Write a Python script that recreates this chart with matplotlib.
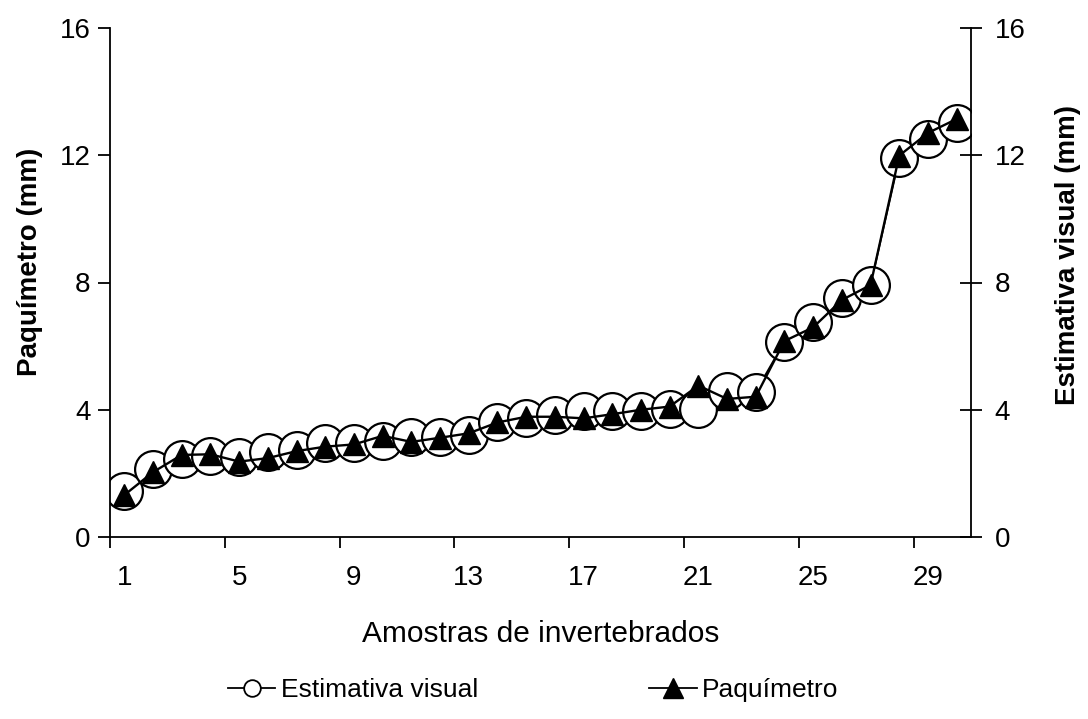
import numpy as np
import matplotlib
matplotlib.use("Agg")
import matplotlib.pyplot as plt
from matplotlib.lines import Line2D

plt.rcParams['font.family'] = ['Liberation Sans', 'DejaVu Sans']

# amostras 1..30
amostras = np.arange(1, 31)

# estimativa visual (circulos, eixo da direita)
estimativa = [1.46, 2.15, 2.46, 2.55, 2.53, 2.68, 2.75, 2.97, 2.97, 3.03,
              3.15, 3.15, 3.21, 3.62, 3.75, 3.82, 3.96, 3.96, 3.96, 4.03,
              4.02, 4.58, 4.57, 6.14, 6.76, 7.52, 7.91, 11.90, 12.52, 13.02]

# paquimetro (triangulos, eixo da esquerda)
paquimetro = [1.32, 2.04, 2.58, 2.60, 2.37, 2.48, 2.70, 2.84, 2.91, 3.18,
              2.99, 3.12, 3.26, 3.60, 3.78, 3.78, 3.73, 3.86, 4.00, 4.10,
              4.76, 4.34, 4.41, 6.16, 6.59, 7.45, 7.92, 11.99, 12.70, 13.14]

yticks = [0, 4, 8, 12, 16]
xlabels_pos = [1, 5, 9, 13, 17, 21, 25, 29]

fs = 20

fig = plt.figure(figsize=(10.88, 7.19), dpi=100)
ax = fig.add_axes([110/1088, 1-537/719, 861/1088, 509/719])
ax2 = ax.twinx()

# circles behind, triangles on top
ax2.plot(amostras, estimativa, color='black', lw=1.3, marker='o', ms=26.5,
         mfc='white', mec='black', mew=1.6, zorder=2)
ax.plot(amostras, paquimetro, color='black', lw=1.7, marker='^', ms=16,
        mfc='black', mec='black', zorder=3)
ax.set_zorder(ax2.get_zorder() + 1)
ax.patch.set_visible(False)

for a in (ax, ax2):
    a.set_ylim(0, 16)
    a.set_yticks(yticks)
    a.set_xlim(0.5, 30.5)
    a.spines['top'].set_visible(False)
    for s in a.spines.values():
        s.set_linewidth(1.3)

ax.spines['right'].set_visible(False)
ax2.spines['left'].set_visible(False)
ax2.spines['bottom'].set_visible(False)

# x axis: marks between categories every 4, labels on categories
ax.set_xticks(np.arange(0.5, 30.6, 4))
ax.set_xticklabels([])
ax.set_xticks(xlabels_pos, minor=True)
ax.set_xticklabels([str(v) for v in xlabels_pos], minor=True)
ax.tick_params(axis='x', which='major', direction='out', length=8, width=1.3)
ax.tick_params(axis='x', which='minor', length=0, pad=20, labelsize=fs)

ax.tick_params(axis='y', direction='out', length=9, width=1.3, pad=5, labelsize=fs)
ax2.tick_params(axis='y', direction='inout', length=16, width=1.3, pad=9, labelsize=fs)

ax.set_ylabel('Paquímetro (mm)', fontsize=fs, fontweight='bold')
ax.yaxis.set_label_coords(-0.078, 0.54)
ax2.set_ylabel('Estimativa visual (mm)', fontsize=fs, fontweight='bold', rotation=90)
ax2.yaxis.set_label_coords(1.097, 0.554)

ax.set_xlabel('Amostras de invertebrados', fontsize=21.5)
ax.xaxis.set_label_coords(0.5, -0.163)

handles = [
    Line2D([], [], color='black', lw=1.3, marker='o', ms=12, mfc='white', mec='black', mew=1.3),
    Line2D([], [], color='black', lw=1.3, marker='^', ms=15, mfc='black', mec='black'),
]
fig.legend(handles, ['Estimativa visual', 'Paquímetro'], loc='center',
           bbox_to_anchor=(0.49, 1-690/719), ncol=2, frameon=False,
           fontsize=19, handlelength=1.8, handletextpad=0.2, columnspacing=6.5)

fig.savefig('out.png', dpi=100)
